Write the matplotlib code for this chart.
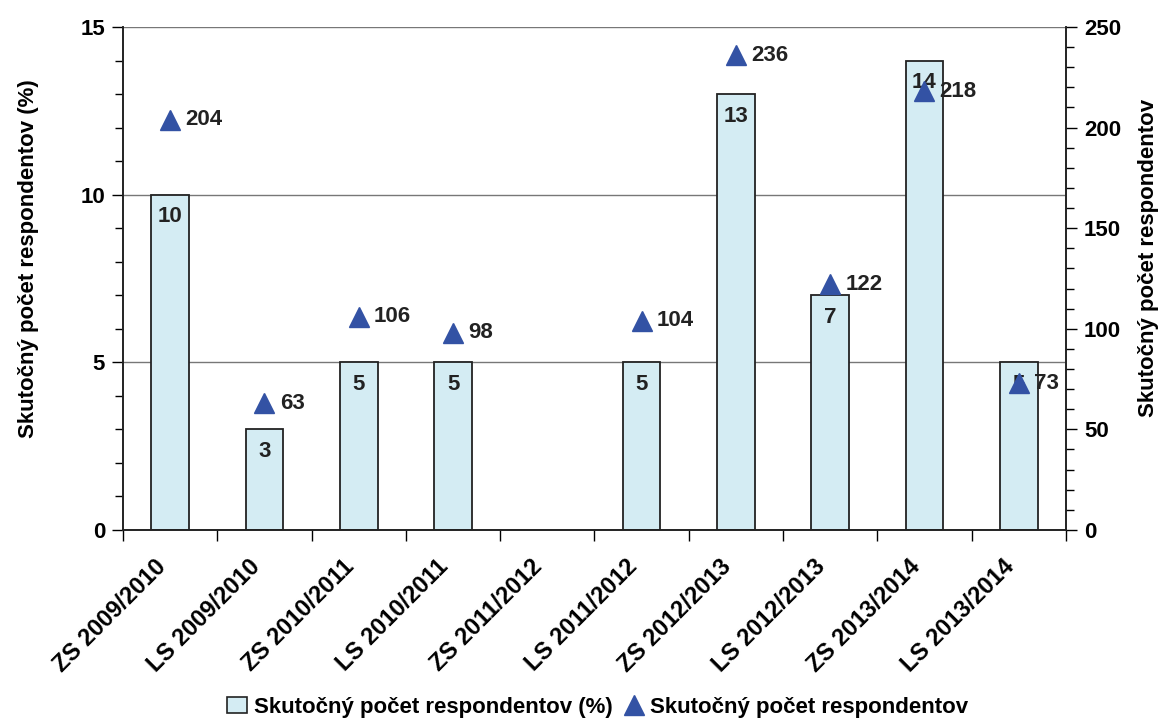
import numpy as np
import matplotlib
matplotlib.use("Agg")
import matplotlib.pyplot as plt
from matplotlib.patches import Patch
from matplotlib.lines import Line2D
from matplotlib.ticker import MultipleLocator

plt.rcParams['font.family'] = ['Liberation Sans', 'DejaVu Sans']
plt.rcParams['font.weight'] = 'bold'

semesters = ["ZS 2009/2010", "LS 2009/2010", "ZS 2010/2011", "LS 2010/2011",
             "ZS 2011/2012", "LS 2011/2012", "ZS 2012/2013", "LS 2012/2013",
             "ZS 2013/2014", "LS 2013/2014"]
percent = [10, 3, 5, 5, np.nan, 5, 13, 7, 14, 5]
counts = [204, 63, 106, 98, np.nan, 104, 236, 122, 218, 73]

bar_color = "#d4ecf3"
tri_color = "#3352a4"
text_color = "#222222"
fs = 16
label_pct = "Skutočný počet respondentov (%)"
label_cnt = "Skutočný počet respondentov"

fig = plt.figure(figsize=(11.61, 7.2), dpi=100)
ax = fig.add_axes([0.106, 0.264, 0.812, 0.6985])
ax2 = ax.twinx()

x = np.arange(len(semesters))
ax.bar(x, percent, width=0.4, color=bar_color, edgecolor=text_color, linewidth=1.3, zorder=2)
for xi, v in zip(x, percent):
    if not np.isnan(v):
        ax.annotate(f"{v:g}", (xi, v), xytext=(0, -16), textcoords="offset points",
                    ha="center", va="center", fontsize=fs, fontweight="bold", color=text_color)

ax2.plot(x, counts, linestyle="none", marker="^", markersize=14, color=tri_color, zorder=3)
for xi, v in zip(x, counts):
    if not np.isnan(v):
        ax2.annotate(f"{v:g}", (xi, v), xytext=(11, 0), textcoords="offset points",
                     ha="left", va="center", fontsize=fs, fontweight="bold", color=text_color)

ax.set_xlim(-0.5, len(semesters) - 0.5)
ax.set_ylim(0, 15)
ax2.set_ylim(0, 250)

ax.yaxis.set_major_locator(MultipleLocator(5))
ax.yaxis.set_minor_locator(MultipleLocator(1))
ax2.yaxis.set_major_locator(MultipleLocator(50))
ax2.yaxis.set_minor_locator(MultipleLocator(10))
ax.yaxis.grid(True, which="major", color="#777777", linewidth=1, zorder=0)
ax.set_axisbelow(True)

# category boundaries carry the ticks, labels sit at category centres
ax.set_xticks(np.arange(len(semesters) + 1) - 0.5)
ax.set_xticklabels([])
ax.set_xticks(x, minor=True)
ax.set_xticklabels(semesters, minor=True, rotation=45, ha="right", va="top",
                   fontsize=17, fontweight="bold")
ax.tick_params(axis="x", which="minor", length=0, pad=18)
ax.tick_params(axis="x", which="major", length=8, width=1, direction="out")

ax.tick_params(axis="y", which="major", length=8, width=1, labelsize=fs, pad=5)
ax.tick_params(axis="y", which="minor", length=6, width=1)
ax2.tick_params(axis="y", which="major", length=8, width=1, labelsize=fs, pad=5)
ax2.tick_params(axis="y", which="minor", length=6, width=1)

for a in (ax, ax2):
    a.spines["top"].set_visible(False)
    for s in ("left", "right", "bottom"):
        a.spines[s].set_color(text_color)
        a.spines[s].set_linewidth(1.2)

ax.set_ylabel(label_pct, fontsize=fs, fontweight="bold", labelpad=30, y=0.54)
ax2.set_ylabel(label_cnt, fontsize=fs, fontweight="bold", labelpad=12, y=0.54)

handles = [Patch(facecolor=bar_color, edgecolor=text_color, linewidth=1.2),
           Line2D([], [], linestyle="none", marker="^", markersize=14, color=tri_color)]
fig.legend(handles, [label_pct, label_cnt], loc="center", bbox_to_anchor=(0.515, 0.018),
           ncol=2, frameon=False, handlelength=0.9, handletextpad=0.3,
           columnspacing=0.5, prop={"weight": "bold", "size": fs})

fig.savefig("out.png", dpi=100)
